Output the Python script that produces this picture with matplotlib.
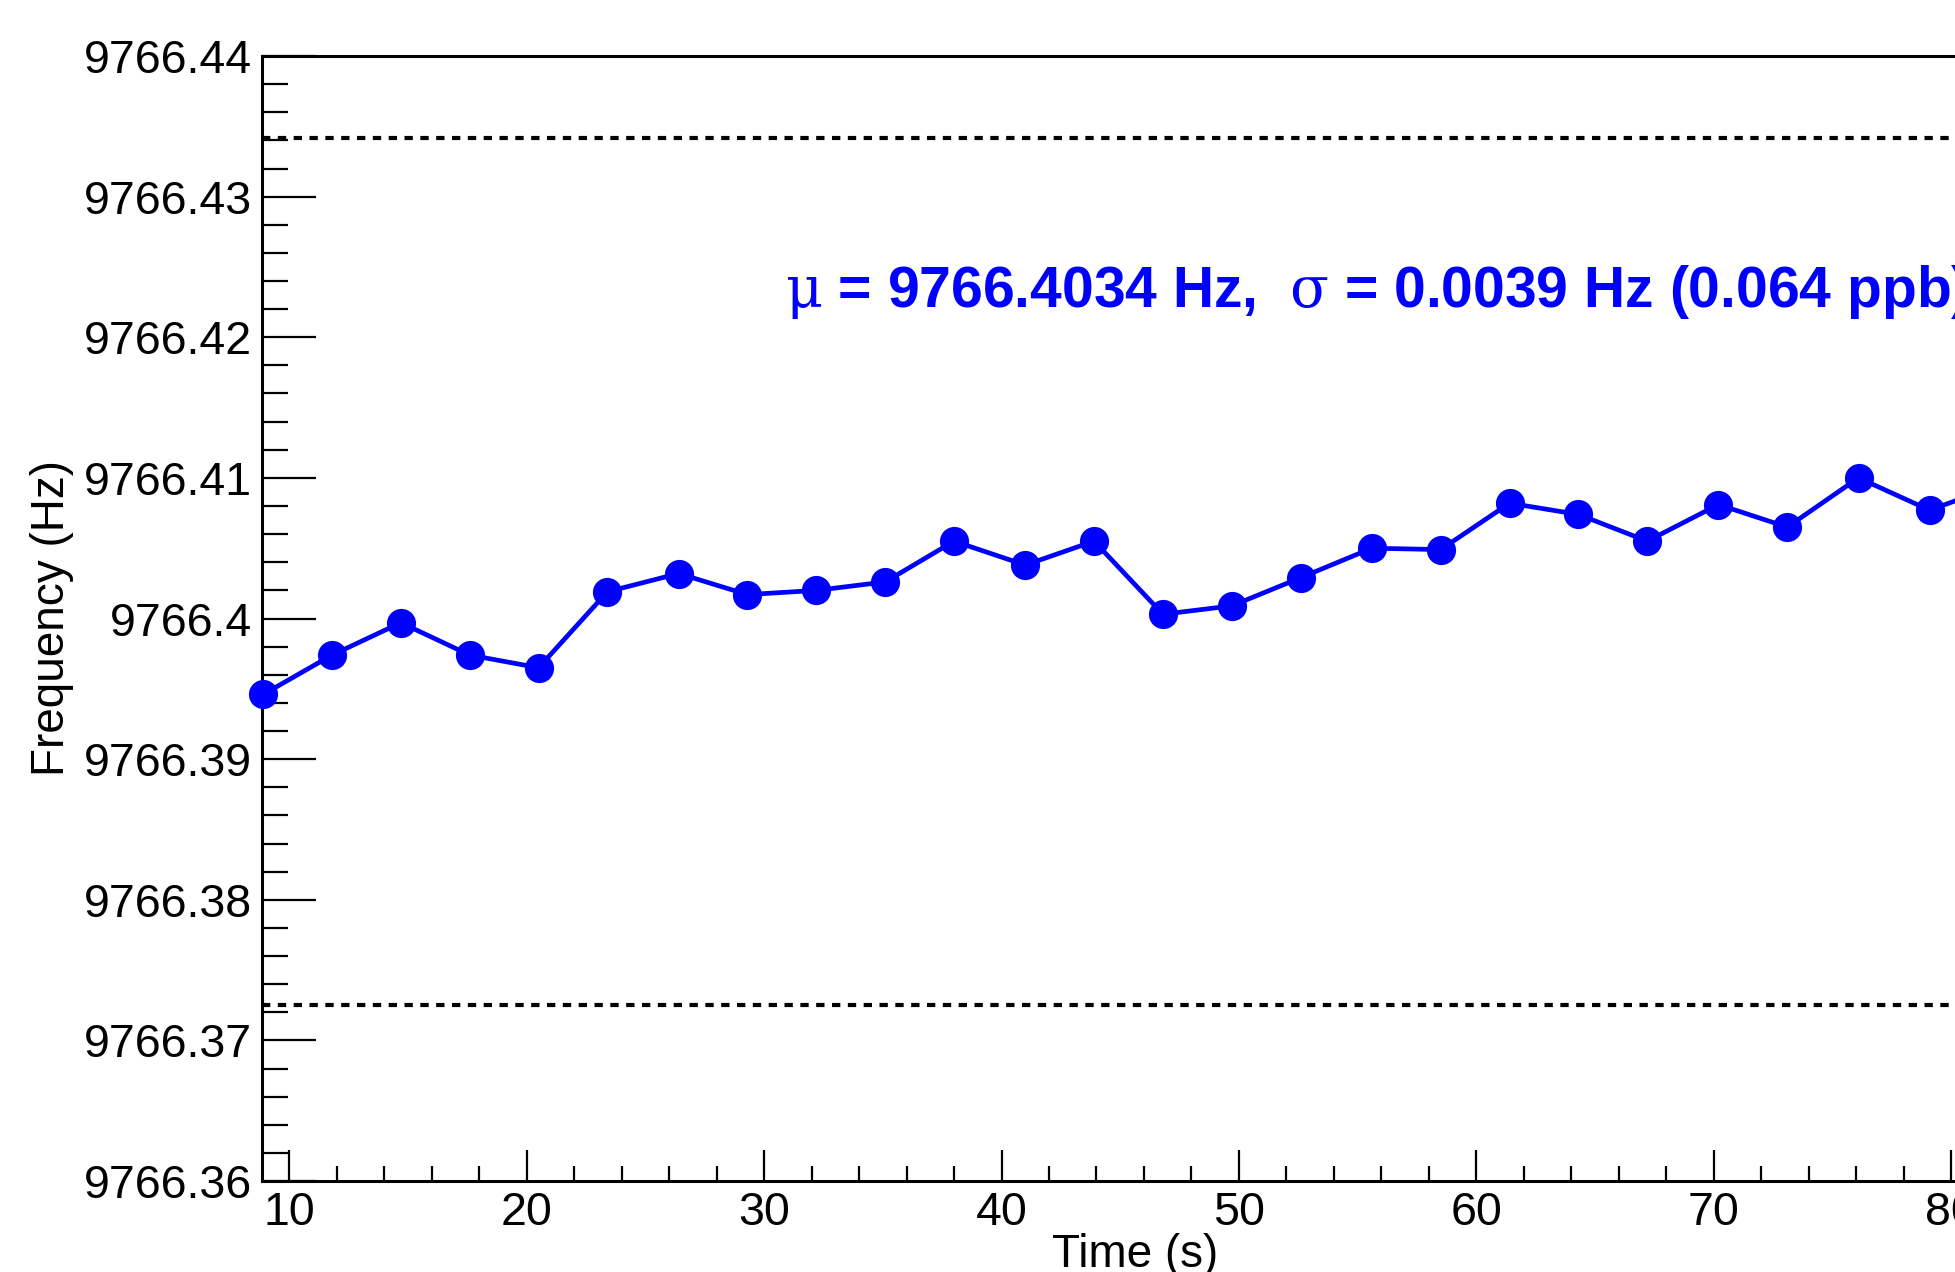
import matplotlib
matplotlib.use('Agg')
import matplotlib.pyplot as plt
from matplotlib.ticker import FixedLocator, FixedFormatter, MultipleLocator

plt.rcParams['font.family'] = ['Liberation Sans', 'DejaVu Sans']
# greek letters in the stats line are drawn upright and not bold, as in ROOT
plt.rcParams['mathtext.fontset'] = 'custom'
plt.rcParams['mathtext.rm'] = 'DejaVu Serif'
plt.rcParams['mathtext.it'] = 'DejaVu Serif'

# measured frequency per time slice
time_s = [8.9, 11.8, 14.7, 17.6, 20.5, 23.4, 26.4, 29.3, 32.2, 35.1, 38.0, 41.0, 43.9,
          46.8, 49.7, 52.6, 55.6, 58.5, 61.4, 64.3, 67.2, 70.2, 73.1, 76.1, 79.1, 82.0]
freq_hz = [9766.3946, 9766.3974, 9766.3997, 9766.3974, 9766.3965, 9766.4019, 9766.4032,
           9766.4017, 9766.4020, 9766.4026, 9766.4055, 9766.4038, 9766.4055, 9766.4003,
           9766.4009, 9766.4029, 9766.4050, 9766.4049, 9766.4082, 9766.4074, 9766.4055,
           9766.4081, 9766.4065, 9766.4100, 9766.4077, 9766.4095]

# dashed limits
band_hi = 9766.4342
band_lo = 9766.3725

stats_label = r"$\mu$ = 9766.4034 Hz,  $\sigma$ = 0.0039 Hz (0.064 ppb)"

y_ticks = [9766.36, 9766.37, 9766.38, 9766.39, 9766.40, 9766.41, 9766.42, 9766.43, 9766.44]
y_tick_labels = ['9766.36', '9766.37', '9766.38', '9766.39', '9766.4',
                 '9766.41', '9766.42', '9766.43', '9766.44']
x_ticks = [10, 20, 30, 40, 50, 60, 70, 80, 90]
x_tick_labels = ['10', '20', '30', '40', '50', '60', '70', '80', '90']

W, H = 1955, 1272
fig = plt.figure(figsize=(W / 100, H / 100), dpi=100)

# frame in pixels (right side runs past the picture edge)
left_px, top_px, bottom_px = 262, 56, 1181
x0, x1 = 8.85, 100.0
px_per_s = 23.74
right_px = left_px + (x1 - x0) * px_per_s
ax = fig.add_axes([left_px / W, 1 - bottom_px / H, (right_px - left_px) / W, (bottom_px - top_px) / H])

ax.set_xlim(x0, x1)
ax.set_ylim(9766.36, 9766.44)

ax.axhline(band_hi, color='black', lw=3.0, dashes=(2, 1.8))
ax.axhline(band_lo, color='black', lw=3.0, dashes=(2, 1.8))

ax.plot(time_s, freq_hz, color='#0000ff', lw=3.4, marker='o', ms=21,
        markeredgewidth=0, clip_on=False, zorder=5)

ax.text(30.9, 9766.4232, stats_label, color='#0000ff', fontsize=41,
        fontweight='bold', ha='left', va='center')

ax.yaxis.set_major_locator(FixedLocator(y_ticks))
ax.yaxis.set_major_formatter(FixedFormatter(y_tick_labels))
ax.yaxis.set_minor_locator(MultipleLocator(0.002))
ax.xaxis.set_major_locator(FixedLocator(x_ticks))
ax.xaxis.set_major_formatter(FixedFormatter(x_tick_labels))
ax.xaxis.set_minor_locator(MultipleLocator(2))

ax.tick_params(axis='both', which='both', direction='in', width=1.6, labelsize=33.5,
               top=False, right=False)
ax.tick_params(axis='y', which='major', length=39, pad=7)
ax.tick_params(axis='y', which='minor', length=19)
ax.tick_params(axis='x', which='major', length=22, pad=7)
ax.tick_params(axis='x', which='minor', length=11)

for sp in ax.spines.values():
    sp.set_linewidth(2.2)

fig.text(52 / W, 1 - 618 / H, 'Frequency (Hz)', rotation=90, fontsize=33,
         ha='center', va='center')
fig.text(1135 / W, 1 - 1233 / H, 'Time (s)', fontsize=33, ha='center', va='top')

plt.savefig('out.png', dpi=100)
